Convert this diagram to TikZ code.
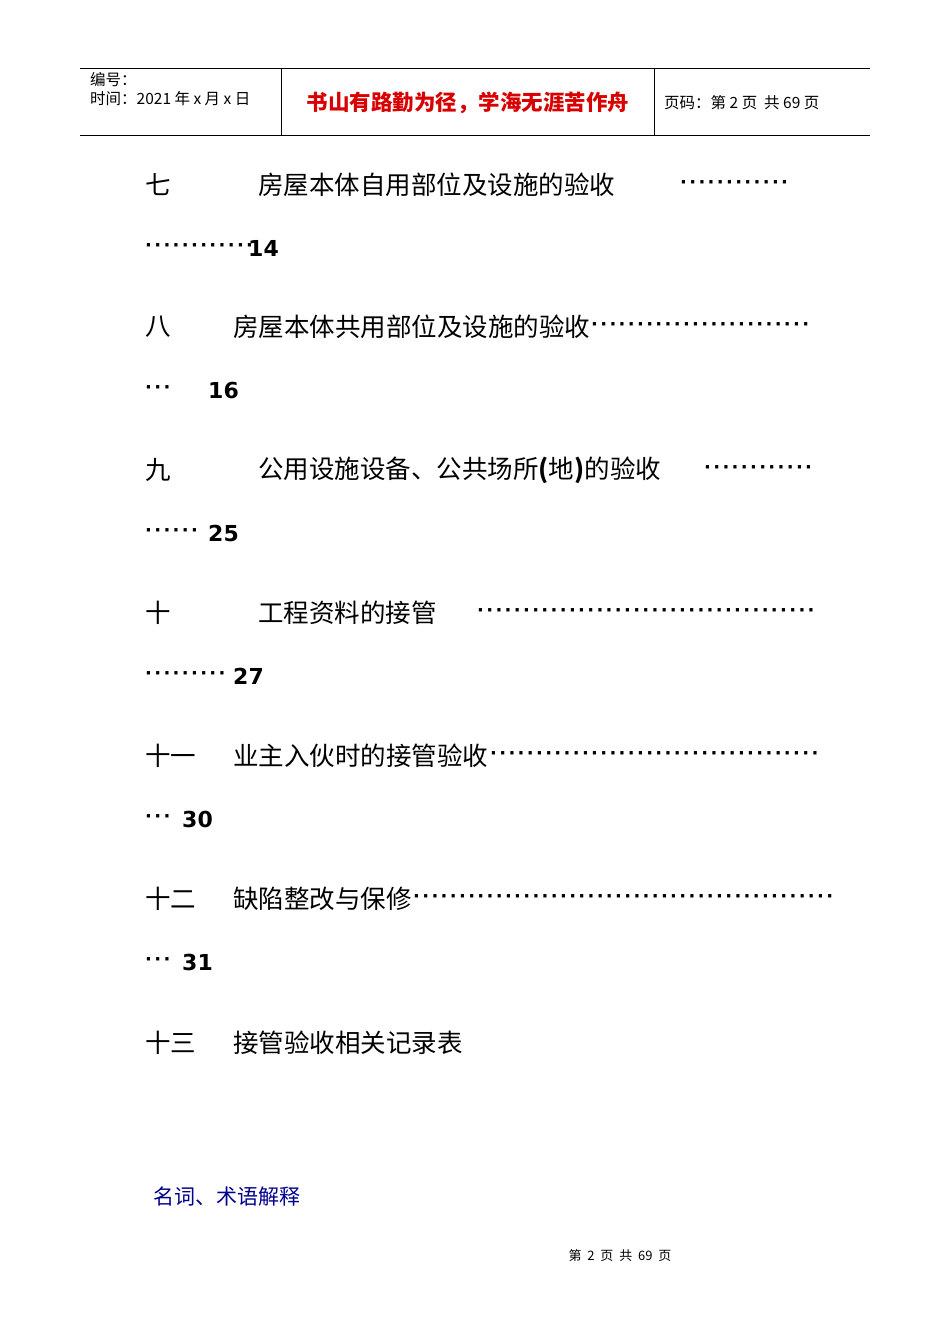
\documentclass[tikz,border=0pt]{standalone}
\usepackage{fontspec}
\setmainfont{DejaVu Sans}
\newfontfamily\cjk{Noto Sans CJK SC}
\newfontfamily\dv{DejaVu Sans}
\newfontfamily\dotf[LetterSpace=13]{DejaVu Sans Bold}
\begin{document}
\begin{tikzpicture}[x=1pt,y=-1pt,
  toc/.style={anchor=west,inner sep=0pt,font=\cjk\fontsize{25.5}{27}\selectfont},
  dots/.style={anchor=west,inner sep=0pt,font=\dotf\fontsize{18}{20}\selectfont},
  num/.style={anchor=west,inner sep=0pt,font=\dv\bfseries\fontsize{22}{24}\selectfont},
  hd/.style={anchor=west,inner sep=0pt,font=\cjk\fontsize{15.5}{17}\selectfont}]
\useasboundingbox[fill=white] (0,0) rectangle (950,1344);
\draw[line width=0.8pt] (80,68) -- (870,68) (80,135) -- (870,135) (281,68) -- (281,135) (654,68) -- (654,135);
\node[hd] (h1) at (90,80) {编号：};
\node[hd] (h2) at (90,99) {时间：2021 年 x 月 x 日};
\node[anchor=center,inner sep=0pt,text=red!85!black,font=\cjk\bfseries\fontsize{21.5}{23}\selectfont] (h3) at (468,103) {书山有路勤为径，学海无涯苦作舟};
\node[hd] (h4) at (664,103) {页码：第 2 页\ \ 共 69 页};
% entries
\node[toc] (a1) at (145,185) {七};
\node[toc] (a2) at (258,185) {房屋本体自用部位及设施的验收};
\node[dots] (a3) at (680,185) {············};
\node[dots] (a4) at (145,248) {············};
\node[num] (a5) at (248,248) {14};
\node[toc] (b1) at (145,327) {八};
\node[toc] (b2) at (233,327) {房屋本体共用部位及设施的验收};
\node[dots] (b3) at (591,327) {························};
\node[dots] (b4) at (145,390) {···};
\node[num] (b5) at (208,390) {16};
\node[toc] (c1) at (145,470) {九};
\node[toc] (c2) at (258,470) {公用设施设备、公共场所\textbf{(}地\textbf{)}的验收};
\node[dots] (c3) at (704,470) {············};
\node[dots] (c4) at (145,533) {······};
\node[num] (c5) at (208,533) {25};
\node[toc] (d1) at (145,613) {十};
\node[toc] (d2) at (258,613) {工程资料的接管};
\node[dots] (d3) at (477,613) {·····································};
\node[dots] (d4) at (145,676) {·········};
\node[num] (d5) at (233,676) {27};
\node[toc] (e1) at (145,756) {十一};
\node[toc] (e2) at (233,756) {业主入伙时的接管验收};
\node[dots] (e3) at (490,756) {····································};
\node[dots] (e4) at (145,819) {···};
\node[num] (e5) at (182,819) {30};
\node[toc] (f1) at (145,899) {十二};
\node[toc] (f2) at (233,899) {缺陷整改与保修};
\node[dots] (f3) at (413,899) {··············································};
\node[dots] (f4) at (145,962) {···};
\node[num] (f5) at (182,962) {31};
\node[toc] (g1) at (145,1043) {十三};
\node[toc] (g2) at (233,1043) {接管验收相关记录表};
\node[anchor=west,inner sep=0pt,text=blue!55!black,font=\cjk\fontsize{21}{23}\selectfont] (n1) at (153,1197) {名词、术语解释};
\node[anchor=center,inner sep=0pt,font=\cjk\fontsize{13}{15}\selectfont] (ft) at (620,1256) {第\ \ 2\ \ 页\ \ 共\ \ 69\ \ 页};
\end{tikzpicture}
\end{document}
